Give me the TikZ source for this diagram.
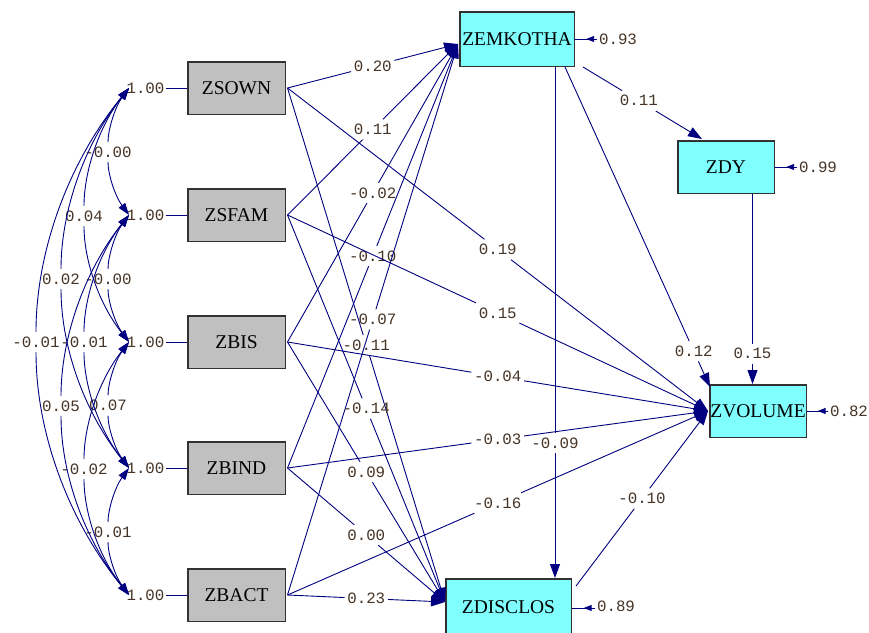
\documentclass[tikz,border=0pt]{standalone}
\usepackage{fontspec}
\setmainfont{Liberation Serif}
\newfontfamily\lmono{Liberation Mono}
\usetikzlibrary{arrows.meta,decorations.markings}
\definecolor{navy}{RGB}{0,0,128}
\definecolor{labcol}{RGB}{70,52,38}
\definecolor{gfill}{RGB}{192,192,192}
\definecolor{cfill}{RGB}{128,255,255}
\definecolor{bord}{RGB}{50,50,50}
\tikzset{
  pth/.style={color=navy, line width=0.9pt},
  arr/.style={-{Triangle[length=14pt,width=10pt]}},
  cov/.style={color=navy, line width=0.9pt, -{Triangle[length=12pt,width=8pt]}},
  lab/.style={font=\lmono\fontsize{15.8}{16}\selectfont, text=labcol, inner xsep=2.5pt, inner ysep=5pt, text height=10pt, text depth=0pt},
  rlab/.style={lab, inner xsep=1.5pt},
  resid/.style={pth, postaction={decorate}, decoration={markings, mark=at position 0.5 with {\arrow{Triangle[length=8pt,width=6pt]}}}},
  gbox/.style={draw=bord, line width=1.5pt, fill=gfill, minimum width=97.5pt, minimum height=52.5pt, inner sep=0pt, font=\fontsize{19.5}{19.5}\selectfont},
  cbox/.style={gbox, fill=cfill},
}
\newcommand\pathlab[5]{%
  \path (#1) -- (#2) node[lab,pos=#3] (#4) {#5};
  \draw[pth] (#1) -- (#4);
  \draw[pth,arr] (#4) -- (#2);
}
\newcommand\covpair[8]{%
  \node[lab] (#1) at (#2,#3) {#4};
  \draw[cov] (#1) .. controls +(0,{-0.175*#8}) and +({-0.5*#7},{0.15*#8}) .. (#5);
  \draw[cov] (#1) .. controls +(0,{0.175*#8}) and +({-0.5*#7},{-0.15*#8}) .. (#6);
}
\begin{document}
\begin{tikzpicture}[x=1pt,y=-1pt]
\path[use as bounding box, fill=white] (0,0) rectangle (869,632);
% boxes
\node[gbox] (ZSOWN) at (236.5,88) {ZSOWN};
\node[gbox] (ZSFAM) at (236.5,215) {ZSFAM};
\node[gbox] (ZBIS) at (236.5,342) {ZBIS};
\node[gbox] (ZBIND) at (236.5,468) {ZBIND};
\node[gbox] (ZBACT) at (236.5,595) {ZBACT};
\node[cbox, minimum width=114.5pt, minimum height=54.5pt] (ZEMKOTHA) at (517,39) {ZEMKOTHA};
\node[cbox, minimum width=96.5pt] (ZDY) at (726,167) {ZDY};
\node[cbox, minimum width=96.5pt] (ZVOLUME) at (758,411) {ZVOLUME};
\node[cbox, minimum width=125.5pt, minimum height=56pt] (ZDISCLOS) at (508.5,607) {ZDISCLOS};
% variances
\node[rlab] (u1) at (145.5,88) {1.00};
\node[rlab] (u2) at (145.5,215) {1.00};
\node[rlab] (u3) at (145.5,342) {1.00};
\node[rlab] (u4) at (145.5,468) {1.00};
\node[rlab] (u5) at (145.5,595) {1.00};
\draw[pth] (u1.east) -- (ZSOWN.west);
\draw[pth] (u2.east) -- (ZSFAM.west);
\draw[pth] (u3.east) -- (ZBIS.west);
\draw[pth] (u4.east) -- (ZBIND.west);
\draw[pth] (u5.east) -- (ZBACT.west);
\coordinate (v1) at (129,88);
\coordinate (v2) at (129,215);
\coordinate (v3) at (129,342);
\coordinate (v4) at (129,468);
\coordinate (v5) at (129,595);
% covariances
\covpair{c12}{108}{152}{-0.00}{v1}{v2}{28}{127}
\covpair{c23}{108}{279}{-0.00}{v2}{v3}{28}{127}
\covpair{c34}{108}{405.5}{0.07}{v3}{v4}{28}{126}
\covpair{c45}{108}{532}{-0.01}{v4}{v5}{28}{127}
\covpair{c13}{84}{216}{0.04}{v1}{v3}{60}{254}
\covpair{c24}{84}{342}{-0.01}{v2}{v4}{60}{253}
\covpair{c35}{84}{469}{-0.02}{v3}{v5}{60}{253}
\covpair{c14}{61}{279}{0.02}{v1}{v4}{91}{380}
\covpair{c25}{61}{406}{0.05}{v2}{v5}{91}{380}
\covpair{c15}{36}{342}{-0.01}{v1}{v5}{124}{507}
% path coordinates
\coordinate (s1) at ([xshift=1.5pt]ZSOWN.east);
\coordinate (s2) at ([xshift=1.5pt]ZSFAM.east);
\coordinate (s3) at ([xshift=1.5pt]ZBIS.east);
\coordinate (s4) at ([xshift=1.5pt]ZBIND.east);
\coordinate (s5) at ([xshift=1.5pt]ZBACT.east);
\coordinate (tE) at (458,44);
\coordinate (tD) at (445,602);
\coordinate (tV) at (708,411);
\coordinate (emA) at (583,67);
\coordinate (dyT) at (702,139);
\coordinate (emB) at (565,67);
\coordinate (voT2) at (710,387);
\coordinate (emC) at (555,67);
\coordinate (diT2) at (555,578);
\coordinate (dyB) at (752.5,194);
\coordinate (voT3) at (752.5,384);
\coordinate (diA) at (576,586);
% paths
\pathlab{s1}{tE}{0.5}{p1e}{0.20}
\pathlab{s2}{tE}{0.5}{p2e}{0.11}
\pathlab{s3}{tE}{0.5}{p3e}{-0.02}
\pathlab{s4}{tE}{0.5}{p4e}{-0.10}
\pathlab{s5}{tE}{0.5}{p5e}{-0.07}
\pathlab{s1}{tD}{0.5}{p1d}{-0.11}
\pathlab{s2}{tD}{0.5}{p2d}{-0.14}
\pathlab{s3}{tD}{0.5}{p3d}{0.09}
\pathlab{s4}{tD}{0.5}{p4d}{0.00}
\pathlab{s5}{tD}{0.5}{p5d}{0.23}
\pathlab{s1}{tV}{0.5}{p1v}{0.19}
\pathlab{s2}{tV}{0.5}{p2v}{0.15}
\pathlab{s3}{tV}{0.5}{p3v}{-0.04}
\pathlab{s4}{tV}{0.5}{p4v}{-0.03}
\pathlab{s5}{tV}{0.5}{p5v}{-0.16}
\pathlab{emA}{dyT}{0.47}{pey}{0.11}
\pathlab{emB}{voT2}{0.888}{pev}{0.12}
\pathlab{emC}{diT2}{0.736}{ped}{-0.09}
\pathlab{dyB}{voT3}{0.842}{pyv}{0.15}
\pathlab{diA}{tV}{0.5}{pdv}{-0.10}
% residuals
\node[rlab] (r1) at (618,39) {0.93};
\node[rlab] (r2) at (818,167) {0.99};
\node[rlab] (r3) at (849,411) {0.82};
\node[rlab] (r4) at (616,606) {0.89};
\draw[resid] (r1.west) -- (ZEMKOTHA.east);
\draw[resid] (r2.west) -- (ZDY.east);
\draw[resid] (r3.west) -- (ZVOLUME.east);
\draw[resid] ([yshift=-2pt]r4.west) -- ([yshift=-2pt]r4.west -| ZDISCLOS.east);
\end{tikzpicture}
\end{document}
